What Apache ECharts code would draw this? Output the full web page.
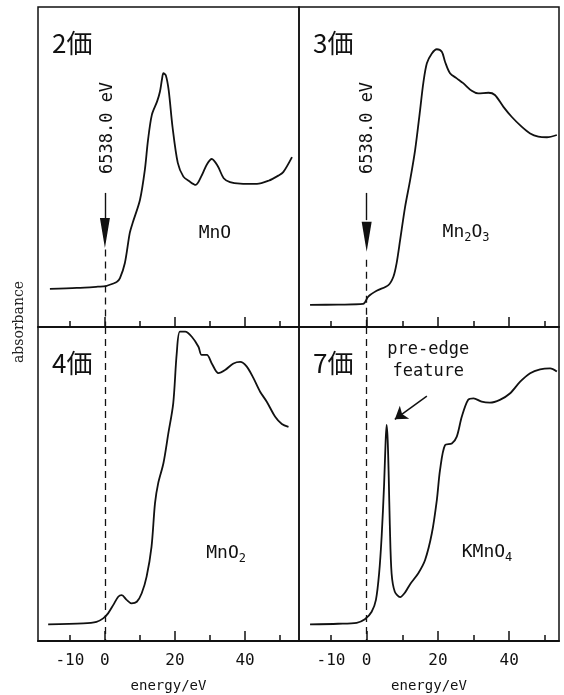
<!DOCTYPE html>
<html><head><meta charset="utf-8">
<script src="https://cdn.jsdelivr.net/npm/echarts@6/dist/echarts.min.js"></script>
<style>html,body{margin:0;padding:0;background:#fff}#c{width:564px;height:695px}</style>
</head><body><div id="c"></div>
<script>
// ---- data (x: energy / eV relative to 6538.0 eV, y: absorbance, arbitrary 0-100 per panel) ----
const tickValues = [-10, 0, 10, 20, 30, 40, 50];
const majorTickValues = [0, 20, 40];
const tickLabels = [-10, 0, 20, 40];
const panelTitles = ['2価', '3価', '4価', '7価'];
const edgeLabel = '6538.0 eV';
const xName = 'energy/eV';
const yName = 'absorbance';

const mnO = [[-15.7,11.9],[-8,12.2],[-2,12.6],[0.3,12.8],[2.4,13.6],[3.4,14.1],[4.3,15.3],[5.7,20],[7.1,29.4],[8,32.8],[10,39.7],[11.4,49.1],[12.3,58.4],[13.4,66.3],[14.9,70.5],[15.7,73.5],[16.3,77.5],[16.7,79.3],[17.4,78.6],[18.2,74],[19.3,62.5],[20.8,51.3],[22.4,47],[24,45.6],[25.9,44.4],[27.7,47.5],[29.1,50.8],[30.5,52.5],[32.2,50.3],[33.9,46.5],[35.7,45.3],[38.6,44.8],[43.4,44.7],[46.7,45.7],[49.5,47.3],[50.9,48.4],[53.4,53.1]];
const mn2O3 = [[-15.9,6.9],[-8,7.0],[-1.0,7.2],[0.45,9.5],[2.8,11.3],[6.1,13.1],[7.5,15.7],[8.4,19.9],[9.4,27.2],[10.8,37.6],[12.2,45.9],[13.6,55.3],[15.0,67.8],[15.9,76.2],[16.9,82.4],[18.3,85.5],[19.7,86.8],[21.1,86.0],[22.0,82.9],[23.4,79.3],[25.3,77.7],[27.1,76.2],[29.5,73.8],[31.3,73.0],[34.2,73.2],[36.0,72.5],[38.4,68.8],[40.7,65.7],[43.5,62.6],[45.9,60.5],[48.2,59.5],[50.6,59.3],[53.4,60.0]];
const mnO2 = [[-16.2,5.3],[-6.2,5.6],[-2.4,6.1],[-0.5,7.2],[0.9,8.8],[2.4,11.5],[3.8,14.1],[4.8,14.6],[6.2,13.1],[7.6,12.0],[9.1,12.5],[10.5,15.2],[11.9,20.5],[13.3,30.0],[14.3,43.9],[15.2,50.2],[16.7,56.6],[18.1,66.1],[19.5,75.7],[20.5,91.6],[21.4,98.5],[22.9,98.5],[24.8,96.9],[26.7,93.7],[27.6,91.1],[29.1,91.1],[30.5,88.4],[32.4,85.3],[34.3,86.3],[36.7,88.4],[38.6,88.9],[40.5,87.4],[42.4,83.7],[44.3,79.4],[46.2,76.2],[48.6,71.4],[50.5,69.1],[52.4,68.2]];
const kMnO4 = [[-15.9,5.3],[-8,5.5],[-2.8,5.8],[-0.5,6.9],[1.4,9.3],[2.6,13.1],[3.5,21.6],[4.2,33.2],[4.9,50],[5.3,63],[5.6,68.8],[5.9,64],[6.2,52],[6.5,37],[7.0,21.5],[7.9,15.7],[9.4,14.0],[10.8,15.5],[12.2,18.1],[14.5,21.6],[16.4,25.8],[18.3,34.3],[19.7,44.9],[20.6,54.5],[22.0,62.4],[23.9,62.9],[25.3,65.1],[26.7,71.4],[28.5,76.8],[30.0,77.3],[32.3,76.2],[34.6,75.9],[37.4,76.8],[40.3,78.9],[43.1,82.6],[45.9,85.3],[48.7,86.5],[51.5,86.8],[53.4,85.8]];
const seriesData = [mnO, mn2O3, mnO2, kMnO4];

// compound labels: [text parts with subscripts], position in data coords
const compoundParts = [[['Mn',''],['O','']], [['Mn','2'],['O','3']], [['Mn',''],['O','2']], [['KMn',''],['O','4']]];
const compoundPos = [[31.4,29.4],[27.9,29.7],[34.6,28.0],[33.8,28.3]];

// annotation coordinates (data space)
const arrowShaft = [[[0,41.9],[0,34]], [[0,41.9],[0,33.4]]];
const arrowHead = [[0,29.4],[0,28.2]];
const dashTop = [24.2, 21];
const edgeLabelPos = [[0.8,62.2],[0.3,62.2]];
const preEdgeArrow = [[16.9,78.0],[7.9,70.6]];
const preEdgePos = [17.3, 89.2];

// ---- layout ----
const ink = '#111';
const mono = '"DejaVu Sans Mono", monospace';
const grids = [
  {left: 38, top: 7, width: 261, height: 320},
  {left: 299, top: 7, width: 260, height: 320},
  {left: 38, top: 327, width: 261, height: 314},
  {left: 299, top: 327, width: 260, height: 314}
];
const xRanges = [[-19.1, 55.4], [-19.0, 54.0], [-19.1, 55.4], [-19.0, 54.0]];

const xAxes = [], yAxes = [], series = [];
for (let i = 0; i < 4; i++) {
  const bottomRow = i >= 2;
  xAxes.push({
    type: 'value', gridIndex: i, position: 'bottom', min: xRanges[i][0], max: xRanges[i][1],
    axisLine: {show: true, lineStyle: {color: ink, width: bottomRow ? 2 : 1.5}},
    axisTick: {show: true, inside: true, length: 6, customValues: tickValues, lineStyle: {color: ink, width: 1.5}},
    axisLabel: {show: bottomRow, customValues: tickLabels, formatter: v => String(v), color: ink,
      fontFamily: mono, fontSize: 16, margin: 12},
    splitLine: {show: false},
    name: bottomRow ? xName : '', nameLocation: 'middle', nameGap: 38,
    nameTextStyle: {color: ink, fontFamily: mono, fontSize: 14}
  });
  yAxes.push({type: 'value', gridIndex: i, min: 0, max: 100, show: false});
}
for (let i = 0; i < 4; i++) {
  xAxes.push({
    type: 'value', gridIndex: i, position: 'bottom', min: xRanges[i][0], max: xRanges[i][1],
    axisLine: {show: false},
    axisTick: {show: true, inside: true, length: 10, customValues: majorTickValues, lineStyle: {color: ink, width: 1.5}},
    axisLabel: {show: false}, splitLine: {show: false}
  });
}

const dashStyle = {color: ink, width: 1.3, type: [7, 5]};
for (let i = 0; i < 4; i++) {
  const lines = [];
  const points = [];
  if (i < 2) {
    lines.push([{coord: arrowShaft[i][0], lineStyle: {color: ink, width: 1.4, type: 'solid'}}, {coord: arrowShaft[i][1]}]);
    lines.push([{coord: [0, dashTop[i]], lineStyle: dashStyle}, {coord: [0, 0]}]);
    points.push({coord: arrowHead[i], symbol: 'triangle', symbolSize: [10, 30], symbolRotate: 180, itemStyle: {color: ink}});
  } else {
    lines.push([{coord: [0, 100], lineStyle: dashStyle}, {coord: [0, 0]}]);
  }
  if (i === 3) {
    lines.push([{coord: preEdgeArrow[0], symbol: 'none', lineStyle: {color: ink, width: 1.5, type: 'solid'}},
                {coord: preEdgeArrow[1], symbol: 'arrow', symbolSize: 12}]);
  }
  series.push({
    type: 'line', xAxisIndex: i, yAxisIndex: i, data: seriesData[i],
    showSymbol: false, symbol: 'none', smooth: 0.3, silent: true,
    lineStyle: {color: ink, width: 1.8},
    markLine: {silent: true, symbol: ['none', 'none'], label: {show: false}, animation: false,
      lineStyle: {color: ink}, itemStyle: {color: ink}, emphasis: {disabled: true}, data: lines},
    markPoint: {silent: true, label: {show: false}, animation: false, data: points}
  });
}

const chart = echarts.init(document.getElementById('c'), null, {renderer: 'canvas'});
chart.setOption({
  backgroundColor: '#fff', animation: false,
  grid: grids.map(g => Object.assign({show: true, borderColor: ink, borderWidth: 1.5, backgroundColor: 'transparent'}, g)),
  xAxis: xAxes, yAxis: yAxes, series: series
});

// ---- text annotations placed through the series' coordinate systems ----
const P = (si, pt) => chart.convertToPixel({seriesIndex: si}, pt);
const graphics = [];
for (let i = 0; i < 4; i++) {
  graphics.push({type: 'text', x: grids[i].left + 14, y: grids[i].top + 36, silent: true,
    style: {text: panelTitles[i], font: '26px "Noto Sans CJK JP"', fill: ink, align: 'left', verticalAlign: 'middle'}});
  const parts = compoundParts[i];
  let rt = '';
  parts.forEach(p => { rt += '{n|' + p[0] + '}'; if (p[1]) rt += '{s|' + p[1] + '}'; });
  const cp = P(i, compoundPos[i]);
  graphics.push({type: 'text', x: cp[0], y: cp[1], silent: true,
    style: {text: rt, align: 'center', verticalAlign: 'middle', fill: ink,
      rich: {n: {fontFamily: mono, fontSize: 18, lineHeight: 23, verticalAlign: 'middle', fill: ink},
             s: {fontFamily: mono, fontSize: 12, lineHeight: 12, verticalAlign: 'bottom', fill: ink}}}});
}
for (let i = 0; i < 2; i++) {
  const ep = P(i, edgeLabelPos[i]);
  graphics.push({type: 'text', x: ep[0], y: ep[1], rotation: Math.PI / 2, silent: true,
    style: {text: edgeLabel, font: '17px ' + mono, fill: ink, align: 'center', verticalAlign: 'middle'}});
}
const pp = P(3, preEdgePos);
graphics.push({type: 'text', x: pp[0], y: pp[1], silent: true,
  style: {text: 'pre-edge\nfeature', font: '17px ' + mono, lineHeight: 22, fill: ink, align: 'center', verticalAlign: 'middle'}});
graphics.push({type: 'text', x: 19, y: 322, rotation: Math.PI / 2, silent: true,
  style: {text: yName, font: '14px "DejaVu Serif"', fill: '#222', align: 'center', verticalAlign: 'middle'}});
chart.setOption({graphic: graphics});
</script></body></html>
